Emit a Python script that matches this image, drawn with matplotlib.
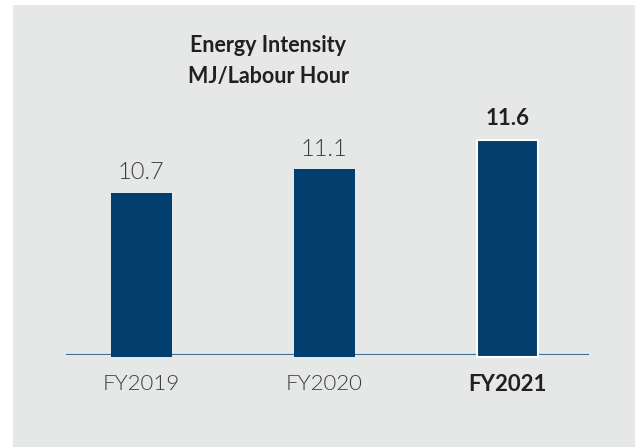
import matplotlib
matplotlib.use("Agg")
import matplotlib.pyplot as plt
from matplotlib.patches import Rectangle

categories = ["FY2019", "FY2020", "FY2021"]
values = [10.7, 11.1, 11.6]
value_labels = ["10.7", "11.1", "11.6"]
highlight = [False, False, True]
title = "Energy Intensity\nMJ/Labour Hour"

W, H = 635, 447
fig = plt.figure(figsize=(W / 100, H / 100), dpi=100, facecolor="white")

bg = "#e6e7e7"
bar_color = "#023f6f"
line_color = "#3d6c96"
light_text = "#3c3c3c"
dark_text = "#231f20"

fig.patches.append(Rectangle((13 / W, 0), (W - 13) / W, (H - 5) / H,
                             transform=fig.transFigure, facecolor=bg,
                             edgecolor="none", zorder=-5))

ax_left, ax_right = 66, 589
ax_bottom, ax_top = 355, 100
px_per_unit = 59.1
ax = fig.add_axes([ax_left / W, (H - ax_bottom) / H,
                   (ax_right - ax_left) / W, (ax_bottom - ax_top) / H])
ax.set_facecolor("none")
ax.set_zorder(2)

x = list(range(len(categories)))
ymin = 7.96
ax.set_xlim(-0.4126, 2.448)
ax.set_ylim(ymin, ymin + (ax_bottom - ax_top) / px_per_unit)

for xi, v, lab, hi in zip(x, values, value_labels, highlight):
    ax.bar(xi, v - ymin + 0.035, bottom=ymin - 0.035, width=0.333,
           color=bar_color,
           edgecolor="white" if hi else bar_color,
           linewidth=1.5 if hi else 0, zorder=3, clip_on=False)
    if hi:
        ax.annotate(lab, (xi, v), xytext=(0, 8), textcoords="offset points",
                    ha="center", va="bottom", fontsize=16, fontweight="bold",
                    color=dark_text, family=["Lato", "DejaVu Sans"])
    else:
        ax.annotate(lab, (xi, v), xytext=(0, 7), textcoords="offset points",
                    ha="center", va="bottom", fontsize=17, fontweight=300,
                    color=light_text, family=["Lato", "DejaVu Sans"])

ax.axhline(ymin, color=line_color, linewidth=1.5, zorder=2)

for s in ax.spines.values():
    s.set_visible(False)
ax.set_yticks([])
ax.set_xticks(x)
ax.set_xticklabels(categories)
ax.tick_params(axis="x", length=0, pad=14)
for t, hi in zip(ax.get_xticklabels(), highlight):
    t.set_family(["Lato", "DejaVu Sans"])
    if hi:
        t.set_fontweight("bold")
        t.set_color(dark_text)
        t.set_fontsize(16)
    else:
        t.set_fontweight(300)
        t.set_color(light_text)
        t.set_fontsize(16)

fig.text(268 / W, 1 - 45 / H, "Energy Intensity", ha="center", va="center",
         fontsize=15.5, fontweight="bold", color=dark_text,
         family=["Lato", "DejaVu Sans"])
fig.text(268 / W, 1 - 76 / H, "MJ/Labour Hour", ha="center", va="center",
         fontsize=15.5, fontweight="bold", color=dark_text,
         family=["Lato", "DejaVu Sans"])

fig.savefig("out.png", dpi=100, facecolor="white")
